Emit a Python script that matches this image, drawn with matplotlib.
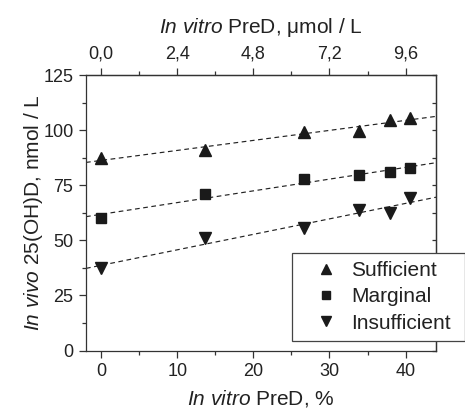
import numpy as np
import matplotlib
matplotlib.use("Agg")
import matplotlib.pyplot as plt
from matplotlib.ticker import MultipleLocator, FixedLocator, FixedFormatter

# ---- data ----
x_pct = [0, 13.7, 26.7, 33.9, 38.0, 40.6]
sufficient = [87.4, 90.8, 99.0, 99.5, 104.8, 105.4]
marginal = [60.0, 71.0, 77.8, 79.6, 81.1, 82.6]
insufficient = [37.3, 51.2, 55.7, 63.7, 62.3, 69.1]
series_names = ["Sufficient", "Marginal", "Insufficient"]

bottom_ticks = [0, 10, 20, 30, 40]
top_tick_values = [0.0, 2.4, 4.8, 7.2, 9.6]
top_tick_labels = ["0,0", "2,4", "4,8", "7,2", "9,6"]
umol_per_pct = 0.24
y_ticks = [0, 25, 50, 75, 100, 125]

# ---- style ----
plt.rcParams['font.family'] = ['Liberation Sans', 'DejaVu Sans']
plt.rcParams['mathtext.fontset'] = 'custom'
plt.rcParams['mathtext.rm'] = 'Liberation Sans'
plt.rcParams['mathtext.it'] = 'Liberation Sans:italic'
TXT = '#222222'
SP = '#333333'

fig = plt.figure(figsize=(4.65, 4.11), dpi=100)
W, H = 465, 411
ax = fig.add_axes([86 / W, 1 - 350.5 / H, (436 - 86) / W, (350.5 - 75) / H])

mk = dict(color='#1a1a1a', linestyle='none')
ax.plot(x_pct, sufficient, marker='^', markersize=8.5, label=series_names[0], **mk)
ax.plot(x_pct, marginal, marker='s', markersize=6.5, label=series_names[1], **mk)
ax.plot(x_pct, insufficient, marker='v', markersize=8.5, label=series_names[2], **mk)

xl = np.array([-2, 44])
for ys in (sufficient, marginal, insufficient):
    k, b = np.polyfit(x_pct, ys, 1)
    ax.plot(xl, k * xl + b, color='#222222', lw=0.85, dashes=(4, 3), zorder=1)

ax.set_xlim(-2, 44)
ax.set_ylim(0, 125)

for s in ax.spines.values():
    s.set_color(SP)
    s.set_linewidth(0.9)

ax.xaxis.set_major_locator(FixedLocator(bottom_ticks))
ax.xaxis.set_minor_locator(MultipleLocator(5))
ax.yaxis.set_major_locator(FixedLocator(y_ticks))
ax.yaxis.set_minor_locator(MultipleLocator(12.5))
ax.tick_params(which='both', direction='out', colors=SP, labelcolor=TXT, labelsize=13, width=0.9)
ax.tick_params(which='major', length=5, pad=4)
ax.tick_params(which='minor', length=3)

# right side inward ticks
ry = ax.secondary_yaxis('right')
ry.yaxis.set_major_locator(FixedLocator(y_ticks))
ry.yaxis.set_minor_locator(MultipleLocator(12.5))
ry.tick_params(which='both', direction='in', length=3, colors=SP, width=0.9, labelright=False)
ry.spines['right'].set_color(SP)
ry.spines['right'].set_linewidth(0.9)

# top secondary axis in umol/L
top = ax.secondary_xaxis('top', functions=(lambda v: v * umol_per_pct, lambda v: v / umol_per_pct))
top.xaxis.set_major_locator(FixedLocator(top_tick_values))
top.xaxis.set_major_formatter(FixedFormatter(top_tick_labels))
top.xaxis.set_minor_locator(FixedLocator([1.2, 3.6, 6.0, 8.4]))
top.tick_params(which='both', direction='out', colors=SP, labelcolor=TXT, labelsize=13, width=0.9)
top.tick_params(which='major', length=5, pad=4)
top.tick_params(which='minor', length=3)
top.spines['top'].set_color(SP)
top.spines['top'].set_linewidth(0.9)
top.set_xlabel(r'$\mathit{In\ vitro}$ PreD, μmol / L', fontsize=15, color=TXT, labelpad=9)

ax.set_xlabel(r'$\mathit{In\ vitro}$ PreD, %', fontsize=15, color=TXT, labelpad=6)
ax.set_ylabel(r'$\mathit{In\ vivo}$ 25(OH)D, nmol / L', fontsize=15, color=TXT, labelpad=-1)

leg = fig.legend(loc='upper left', bbox_to_anchor=(291.7 / W, 1 - 253 / H, (465 - 291.7) / W, 0.0),
                 bbox_transform=fig.transFigure, mode='expand', borderaxespad=0,
                 fontsize=15, frameon=True, fancybox=False, framealpha=1, edgecolor='#444444',
                 handlelength=2.5, handletextpad=-0.05, borderpad=0.4, labelspacing=0.34,
                 numpoints=1, labelcolor=TXT)
leg.get_frame().set_linewidth(0.9)
for h in leg.legend_handles:
    h.set_markersize(h.get_markersize() * 0.85)

fig.savefig('out.png', dpi=100)
